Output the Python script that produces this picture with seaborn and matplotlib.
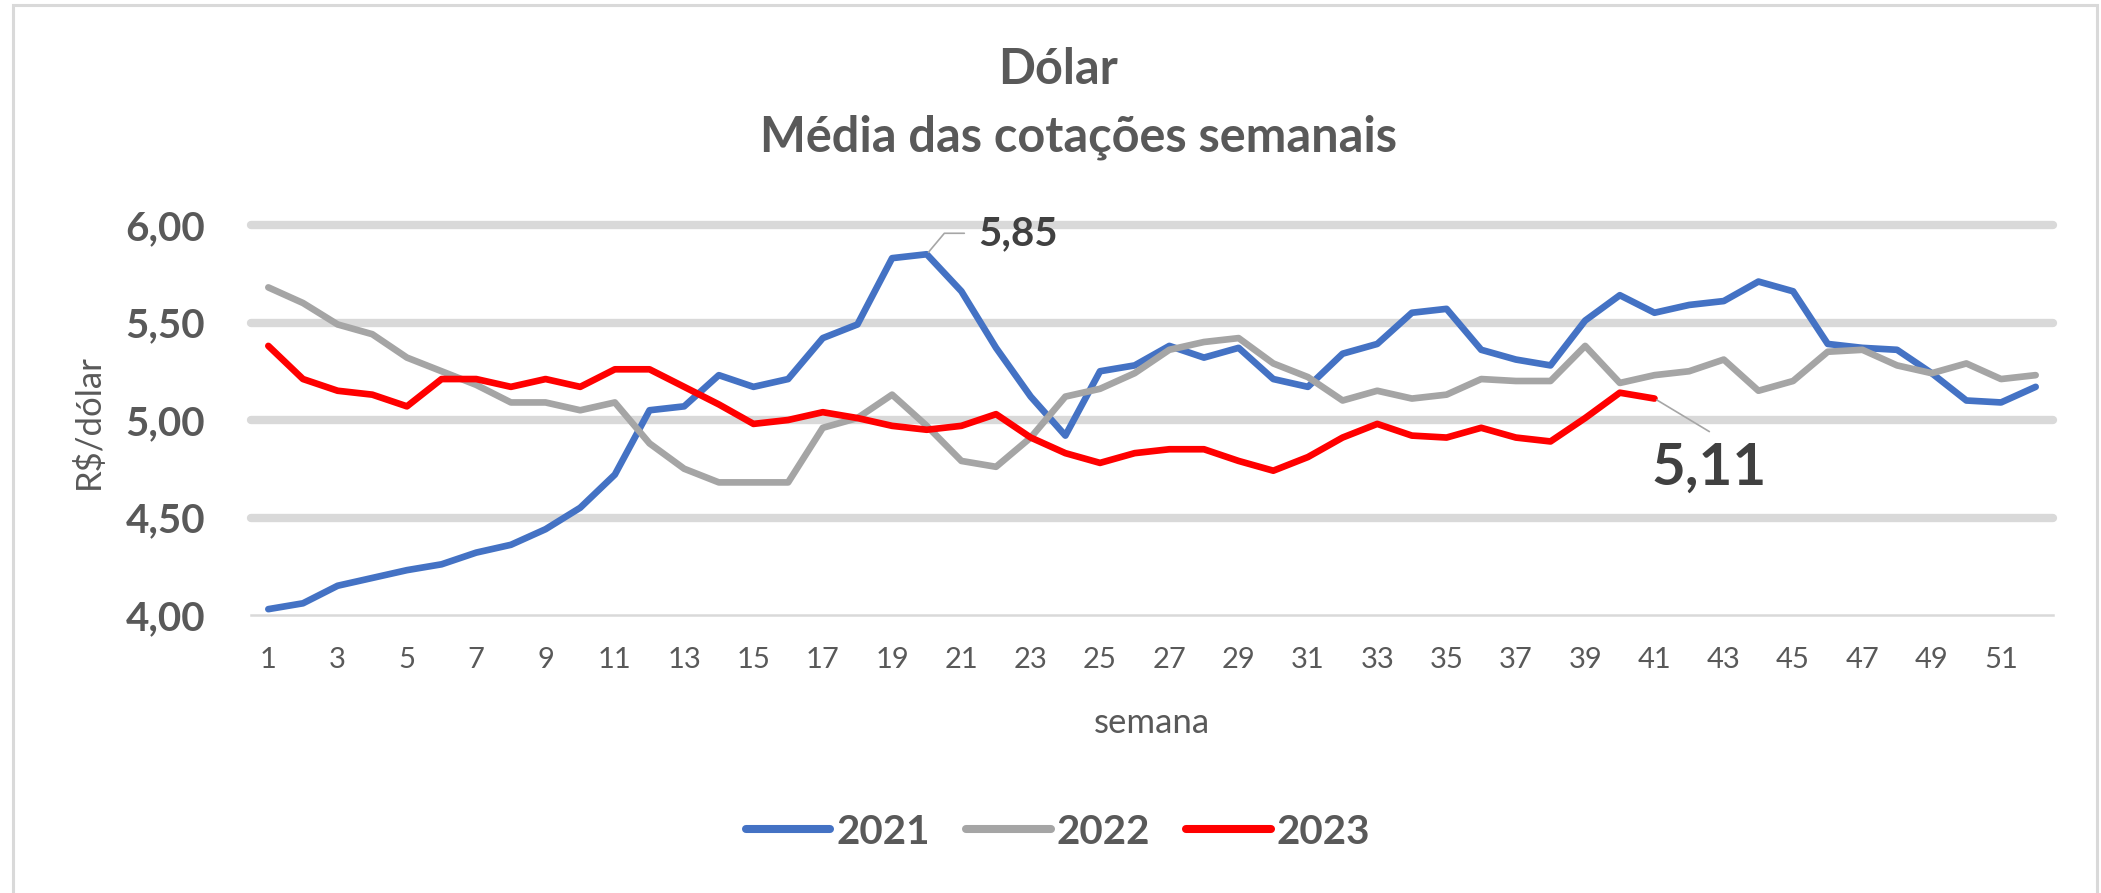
import numpy as np
import pandas as pd
import matplotlib
matplotlib.use("Agg")
import matplotlib.pyplot as plt
from matplotlib import font_manager
from matplotlib.patches import Rectangle
import seaborn as sns

# ---------------- data ----------------
weeks = list(range(1, 53))
years = ["2021", "2022", "2023"]
values_2021 = [4.03, 4.06, 4.15, 4.19, 4.23, 4.26, 4.32, 4.36, 4.44, 4.55,
               4.72, 5.05, 5.07, 5.23, 5.17, 5.21, 5.42, 5.49, 5.83, 5.85,
               5.66, 5.37, 5.12, 4.92, 5.25, 5.28, 5.38, 5.32, 5.37, 5.21,
               5.17, 5.34, 5.39, 5.55, 5.57, 5.36, 5.31, 5.28, 5.51, 5.64,
               5.55, 5.59, 5.61, 5.71, 5.66, 5.39, 5.37, 5.36, 5.24, 5.10,
               5.09, 5.17]
values_2022 = [5.68, 5.60, 5.49, 5.44, 5.32, 5.25, 5.18, 5.09, 5.09, 5.05,
               5.09, 4.88, 4.75, 4.68, 4.68, 4.68, 4.96, 5.01, 5.13, 4.97,
               4.79, 4.76, 4.91, 5.12, 5.16, 5.24, 5.36, 5.40, 5.42, 5.29,
               5.22, 5.10, 5.15, 5.11, 5.13, 5.21, 5.20, 5.20, 5.38, 5.19,
               5.23, 5.25, 5.31, 5.15, 5.20, 5.35, 5.36, 5.28, 5.24, 5.29,
               5.21, 5.23]
values_2023 = [5.38, 5.21, 5.15, 5.13, 5.07, 5.21, 5.21, 5.17, 5.21, 5.17,
               5.26, 5.26, 5.17, 5.08, 4.98, 5.00, 5.04, 5.01, 4.97, 4.95,
               4.97, 5.03, 4.91, 4.83, 4.78, 4.83, 4.85, 4.85, 4.79, 4.74,
               4.81, 4.91, 4.98, 4.92, 4.91, 4.96, 4.91, 4.89, 5.01, 5.14,
               5.11]
y_ticks = [4.0, 4.5, 5.0, 5.5, 6.0]
y_tick_labels = ["4,00", "4,50", "5,00", "5,50", "6,00"]
x_ticks = list(range(1, 53, 2))
x_tick_labels = [str(w) for w in x_ticks]
label_max = "5,85"
label_last = "5,11"
title_line1 = "Dólar"
title_line2 = "Média das cotações semanais"
x_title = "semana"
y_title = "R$/dólar"

colors = {"2021": "#4472C4", "2022": "#A5A5A5", "2023": "#FF0000"}

# ---------------- style ----------------
sns.set_theme(style="white")
names = {f.name for f in font_manager.fontManager.ttflist}
main_font = "Lato" if "Lato" in names else "DejaVu Sans"
plt.rcParams["font.family"] = [main_font, "DejaVu Sans"]

TXT = "#595959"
DARK = "#404040"
GRID = "#D9D9D9"

W, H = 2101, 893
fig = plt.figure(figsize=(W / 100, H / 100), dpi=100)
fig.patch.set_facecolor("white")

ax_l, ax_r, ax_t, ax_b = 251, 2053, 225, 615
ax = fig.add_axes([ax_l / W, 1 - ax_b / H, (ax_r - ax_l) / W, (ax_b - ax_t) / H])

df = pd.concat([
    pd.DataFrame({"semana": weeks[:len(values_2021)], "valor": values_2021, "ano": "2021"}),
    pd.DataFrame({"semana": weeks[:len(values_2022)], "valor": values_2022, "ano": "2022"}),
    pd.DataFrame({"semana": weeks[:len(values_2023)], "valor": values_2023, "ano": "2023"}),
], ignore_index=True)

# gridlines (drawn first, under the data)
for yv in y_ticks[1:]:
    ax.axhline(yv, color=GRID, lw=6, zorder=0, clip_on=False)

sns.lineplot(data=df, x="semana", y="valor", hue="ano", hue_order=years,
             palette=colors, linewidth=4.8, estimator=None, sort=False,
             ax=ax, zorder=3)

ax.set_xlim(0.5, 52.5)
ax.set_ylim(4.0, 6.0)
ax.set_xticks(x_ticks)
ax.set_xticklabels(x_tick_labels, fontsize=21, color=TXT)
ax.set_yticks(y_ticks)
ax.set_yticklabels(y_tick_labels, fontsize=29, color=TXT, fontweight="bold")
ax.tick_params(axis="both", length=0)
ax.tick_params(axis="y", pad=33)
ax.tick_params(axis="x", pad=23)
ax.grid(False)
for s in ["top", "right", "left"]:
    ax.spines[s].set_visible(False)
ax.spines["bottom"].set_color(GRID)
ax.spines["bottom"].set_linewidth(1.8)
ax.spines["bottom"].set_zorder(1)

ax.set_xlabel(x_title, fontsize=25, color=TXT)
ax.set_ylabel(y_title, fontsize=25, color=TXT)
ax.xaxis.set_label_coords(0.5, (ax_b - 707) / (ax_b - ax_t))
ax.yaxis.set_label_coords((105 - ax_l) / (ax_r - ax_l), 0.495)

# annotations
i_max = int(np.argmax(values_2021))
ax.annotate(label_max, xy=(weeks[i_max], values_2021[i_max]),
            xytext=(37.4, 15.1), textcoords="offset points",
            ha="left", va="center", fontsize=29, fontweight="bold", color=DARK,
            arrowprops=dict(arrowstyle="-", color="#A6A6A6", lw=1.2,
                            connectionstyle="angle,angleA=0,angleB=50,rad=0",
                            relpos=(0, 0.5), shrinkA=8, shrinkB=2),
            zorder=5)
i_last = len(values_2023) - 1
ax.annotate(label_last, xy=(weeks[i_last], values_2023[i_last]),
            xytext=(39.5, -50.5), textcoords="offset points",
            ha="center", va="center", fontsize=42, fontweight="bold", color=DARK,
            arrowprops=dict(arrowstyle="-", color="#A6A6A6", lw=1.2,
                            relpos=(0.5, 1.2), patchA=None,
                            shrinkA=0, shrinkB=2),
            zorder=5)

# titles
fig.text(1058 / W, 1 - 69 / H, title_line1, ha="center", va="center",
         fontsize=35, fontweight="bold", color=TXT)
fig.text(1079 / W, 1 - 137 / H, title_line2, ha="center", va="center",
         fontsize=35, fontweight="bold", color=TXT)

# legend
handles, labels = ax.get_legend_handles_labels()
if ax.get_legend() is not None:
    ax.get_legend().remove()
leg = fig.legend(handles, labels, loc="center", bbox_to_anchor=(1058 / W, 1 - 832 / H),
                 ncol=3, frameon=False, handlelength=2.1, handletextpad=0.15,
                 columnspacing=0.9, prop={"size": 29, "weight": "bold"})
for t in leg.get_texts():
    t.set_color(TXT)
for h in leg.get_lines():
    h.set_linewidth(5.8)

# outer border of the chart area
fig.patches.append(Rectangle((13 / W, -0.02), (2097 - 13) / W, 1.02 - 5 / H,
                             transform=fig.transFigure, fill=False,
                             edgecolor=GRID, lw=2.2, zorder=0))

fig.savefig("out.png", dpi=100, facecolor="white")
